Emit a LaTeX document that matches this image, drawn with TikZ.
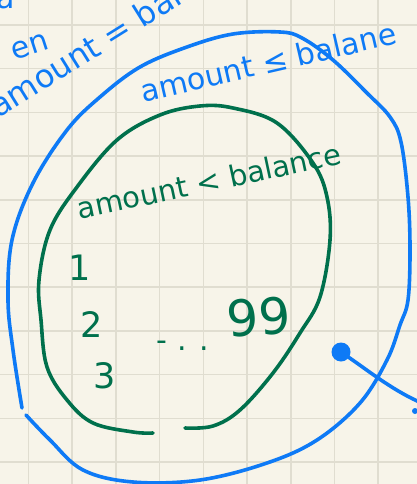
\documentclass[tikz,border=0pt]{standalone}
\usepackage{fontspec}
\setmainfont{DejaVu Sans}
\definecolor{paper}{RGB}{247,244,233}
\definecolor{gridline}{RGB}{224,221,208}
\definecolor{penblue}{RGB}{14,122,246}
\definecolor{pengreen}{RGB}{0,112,76}
\begin{document}
\begin{tikzpicture}[
  x=1pt,y=-1pt,
  ink/.style={line width=3.6pt,line cap=round,line join=round},
  bluepen/.style={ink,draw=penblue},
  greenpen/.style={ink,draw=pengreen},
  bluenote/.style={text=penblue,font=\fontsize{30}{32}\selectfont,inner sep=0pt},
  greennote/.style={text=pengreen,font=\fontsize{29}{32}\selectfont,inner sep=0pt},
  digit/.style={text=pengreen,font=\fontsize{35}{36}\selectfont,inner sep=0pt},
  blob/.style={circle,fill=penblue,minimum size=19pt,inner sep=0pt}
]
\useasboundingbox (0,0) rectangle (417,484);
\clip (0,0) rectangle (417,484);
% squared paper
\fill[paper] (0,0) rectangle (417,484);
\foreach \k in {0,...,8}
  \draw[gridline,line width=1.6pt] (28.5+43.7*\k,0) -- (28.5+43.7*\k,484);
\foreach \k in {0,...,10}
  \draw[gridline,line width=1.6pt] (0,25+43.7*\k) -- (417,25+43.7*\k);

% leftovers of the previous note, cut by the page edge
\node[bluenote] (prevA) at (6,0) {a};
\node[bluenote,rotate=18] (prevB) at (30,47) {en};
\node[bluenote,font=\fontsize{32}{34}\selectfont,rotate=32,anchor=base west]
  (prevC) at (-2,119) {amount = bala};

% outer set
\draw[bluepen] plot[smooth,tension=0.6] coordinates {
  (22,408) (13,350) (8,300) (12,240) (33,183) (67,130) (100,97) (140,67)
  (187,47) (233,34) (280,32) (302,38) (333,60) (367,93) (390,117) (401,142)
  (408,197) (410,250) (408,300) (400,325) (387,360) (360,403) (317,440)
  (267,463) (200,480) (133,482) (83,470) (50,440) (26,415)};
\node[bluenote,rotate=13] (outerlbl) at (268,62) {amount ≤ balane};

% inner set
\draw[greenpen] plot[smooth,tension=0.6] coordinates {
  (153,433) (133,432) (93,423) (67,400) (47,367) (41,320) (39,280) (50,230)
  (77,187) (117,140) (160,115) (200,106) (233,108) (277,123) (313,163)
  (327,197) (330,240) (320,297) (300,333) (273,373) (240,410) (213,426)
  (185,428)};
\node[greennote,rotate=12] (innerlbl) at (209,181) {amount < balance};
\node[digit] (one) at (80,268) {1};
\node[digit] (two) at (92,325) {2};
\node[digit] (three) at (105,376) {3};
\node[greennote,font=\fontsize{30}{32}\selectfont] (dots) at (183,346) {- . .};
\node[digit,font=\fontsize{50}{52}\selectfont,rotate=5] (last) at (259,317) {99};

% pointer leaving to the right
\node[blob] (grip) at (341,352) {};
\coordinate (exit) at (424,404);
\draw[bluepen] (grip) .. controls (370,372) and (395,392) .. (exit);
\fill[penblue] (415,411) circle (3pt);
\end{tikzpicture}
\end{document}
